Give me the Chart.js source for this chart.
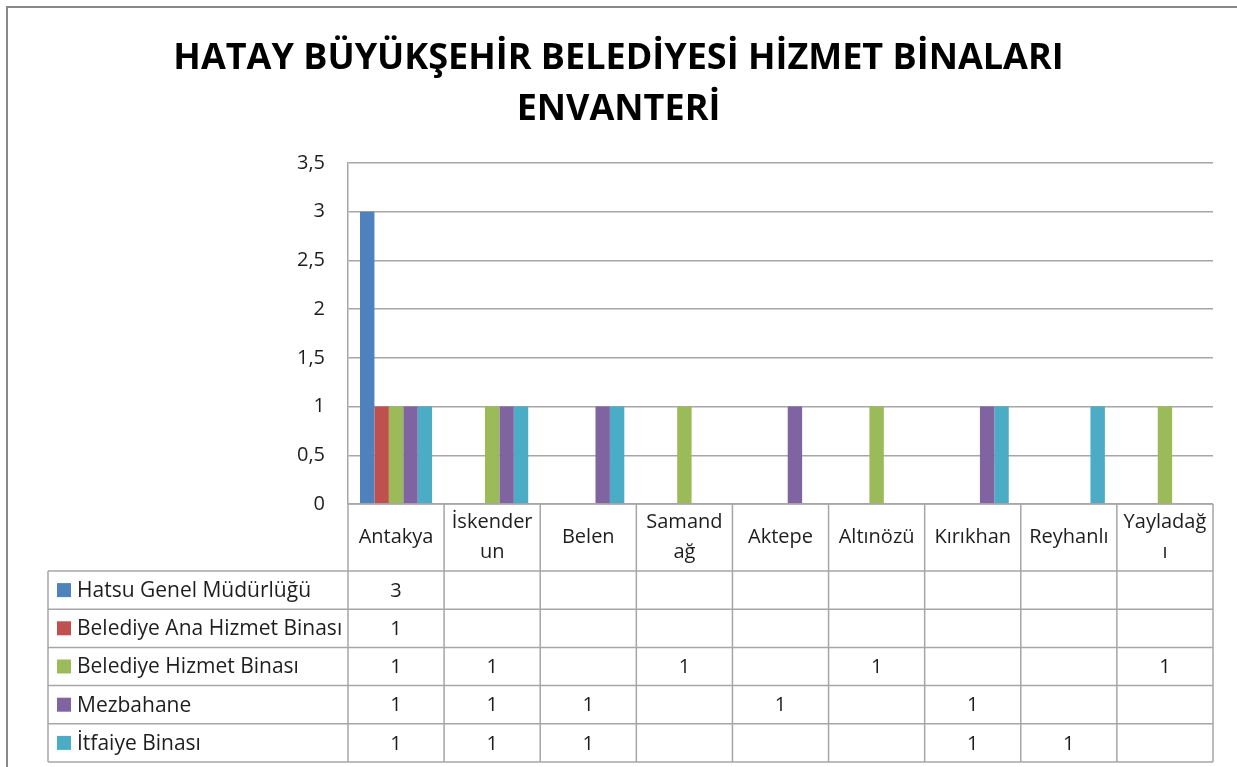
<!DOCTYPE html>
<html>
<head>
<meta charset="utf-8">
<script src="https://cdn.jsdelivr.net/npm/chart.js@4.4.0/dist/chart.umd.min.js"></script>
<style>
  body { margin: 0; background: #fff; }
  canvas { display: block; }
</style>
</head>
<body>
<canvas id="chart" width="1237" height="767"></canvas>
<script>
// data
const titleLines = ["HATAY BÜYÜKŞEHİR BELEDİYESİ HİZMET BİNALARI", "ENVANTERİ"];
const categories = ["Antakya", ["İskender", "un"], "Belen", ["Samand", "ağ"], "Aktepe", "Altınözü", "Kırıkhan", "Reyhanlı", ["Yayladağ", "ı"]];
const seriesNames = ["Hatsu Genel Müdürlüğü", "Belediye Ana Hizmet Binası", "Belediye Hizmet Binası", "Mezbahane", "İtfaiye Binası"];
const hatsu    = [3, null, null, null, null, null, null, null, null];
const anaBina  = [1, null, null, null, null, null, null, null, null];
const hizmet   = [1, 1, null, 1, null, 1, null, null, 1];
const mezbaha  = [1, 1, 1, null, 1, null, 1, null, null];
const itfaiye  = [1, 1, 1, null, null, null, 1, 1, null];
const colors = ["#4F81BD", "#C0504D", "#9BBB59", "#8064A2", "#4BACC6"];
const yTicks = [0, 0.5, 1, 1.5, 2, 2.5, 3, 3.5];

const FONT = "'Open Sans', sans-serif";
const TEXT = "#1e1e1e";
const LINE = "#a6a6a6";

function fmt(v) {
    return String(v).replace(".", ",");
}

// white background + outer frame
const frame = {
    id: "frame",
    beforeDraw(chart) {
        const ctx = chart.ctx;
        ctx.save();
        ctx.fillStyle = "#fff";
        ctx.fillRect(0, 0, chart.width, chart.height);
        ctx.strokeStyle = "#888";
        ctx.lineWidth = 2;
        ctx.strokeRect(7, 7, chart.width + 20, chart.height + 20);
        ctx.restore();
    }
};

// Excel style data table under the plot
const dataTable = {
    id: "dataTable",
    afterDraw(chart) {
        const ctx = chart.ctx;
        const area = chart.chartArea;
        const x = chart.scales.x;
        const half = (x.getPixelForValue(1) - x.getPixelForValue(0)) / 2;
        const tableLeft = 48;
        const headBottom = area.bottom + 67;
        const rowH = 38.2;
        const tableBottom = headBottom + rowH * seriesNames.length;

        ctx.save();
        ctx.strokeStyle = LINE;
        ctx.lineWidth = 1.5;
        ctx.beginPath();
        ctx.moveTo(area.left, area.bottom);
        ctx.lineTo(area.right, area.bottom);
        for (let k = 0; k <= seriesNames.length; k++) {
            const y = headBottom + k * rowH;
            ctx.moveTo(tableLeft, y);
            ctx.lineTo(area.right, y);
        }
        for (let i = 0; i <= categories.length; i++) {
            const xx = x.getPixelForValue(0) - half + i * half * 2;
            ctx.moveTo(xx, area.bottom);
            ctx.lineTo(xx, tableBottom);
        }
        ctx.moveTo(tableLeft, headBottom);
        ctx.lineTo(tableLeft, tableBottom);
        ctx.stroke();

        ctx.font = "20px " + FONT;
        ctx.fillStyle = TEXT;
        ctx.textAlign = "center";
        ctx.textBaseline = "middle";

        // category header
        const headMid = (area.bottom + headBottom) / 2;
        categories.forEach((c, i) => {
            const cx = x.getPixelForValue(i);
            const lines = Array.isArray(c) ? c : [c];
            lines.forEach((ln, j) => {
                const cy = headMid + (j - (lines.length - 1) / 2) * 30;
                ctx.fillText(ln, cx, cy);
            });
        });

        // series rows
        chart.data.datasets.forEach((ds, k) => {
            const cy = headBottom + (k + 0.5) * rowH;
            ctx.fillStyle = ds.backgroundColor;
            ctx.fillRect(57, cy - 7, 14, 14);
            ctx.fillStyle = TEXT;
            ctx.textAlign = "left";
            ctx.font = "21px " + FONT;
            ctx.fillText(ds.label, 77, cy + 1);
            ctx.textAlign = "center";
            ctx.font = "20px " + FONT;
            ds.data.forEach((v, i) => {
                if (v !== null) ctx.fillText(fmt(v), x.getPixelForValue(i), cy + 1);
            });
        });
        ctx.restore();
    }
};

const seriesValues = [hatsu, anaBina, hizmet, mezbaha, itfaiye];

new Chart(document.getElementById("chart"), {
    type: "bar",
    data: {
        labels: categories,
        datasets: seriesNames.map((name, k) => ({
            label: name,
            data: seriesValues[k],
            backgroundColor: colors[k],
            borderWidth: 0,
            categoryPercentage: 0.75,
            barPercentage: 1
        }))
    },
    options: {
        responsive: false,
        animation: false,
        layout: { padding: { left: 24, right: 24, top: 0, bottom: 0 } },
        plugins: {
            legend: { display: false },
            tooltip: { enabled: false },
            title: {
                display: true,
                text: titleLines,
                color: "#000",
                font: { family: FONT, size: 36, weight: "bold", lineHeight: 1.417 },
                padding: { top: 33, bottom: 28 }
            }
        },
        scales: {
            x: {
                ticks: { display: false },
                grid: { display: false },
                border: { display: false },
                afterFit(scale) { scale.height = 263; }
            },
            y: {
                min: 0,
                max: 3.5,
                afterBuildTicks(scale) { scale.ticks = yTicks.map(v => ({ value: v })); },
                ticks: {
                    padding: 23,
                    color: TEXT,
                    font: { family: FONT, size: 20 },
                    callback: v => fmt(v)
                },
                grid: { color: LINE, lineWidth: 1.5, drawTicks: false },
                border: { color: LINE, width: 1.5 },
                afterFit(scale) { scale.width = 324; }
            }
        }
    },
    plugins: [frame, dataTable]
});
</script>
</body>
</html>
